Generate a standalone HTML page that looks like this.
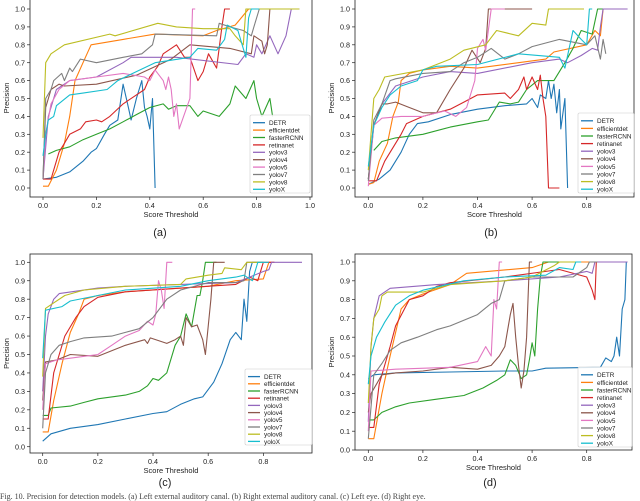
<!DOCTYPE html>
<html><head><meta charset="utf-8"><style>
html,body{margin:0;padding:0;background:#fff}
svg{display:block;font-family:"Liberation Sans","DejaVu Sans",sans-serif}
</style></head><body>
<svg id="fig" width="640" height="501" viewBox="0 0 640 501" xmlns="http://www.w3.org/2000/svg">
<text x="0" y="499" font-size="8" fill="#444" font-family="Liberation Serif, serif">Fig. 10.   Precision for detection models. (a) Left external auditory canal. (b) Right external auditory canal. (c) Left eye. (d) Right eye.</text>
</svg>
<script>
const seriesNames = ["DETR","efficientdet","fasterRCNN","retinanet","yolov3","yolov4","yolov5","yolov7","yolov8","yoloX"];
const seriesColors = ["#1f77b4","#ff7f0e","#2ca02c","#d62728","#9467bd","#8c564b","#e377c2","#7f7f7f","#bcbd22","#17becf"];
const yTicks = [0,0.1,0.2,0.3,0.4,0.5,0.6,0.7,0.8,0.9,1.0];
const xTicksA = [0,0.2,0.4,0.6,0.8,1.0];
const xTicksB = [0,0.2,0.4,0.6,0.8];

const dataA = [
[[0,0.05],[0.05,0.06],[0.1,0.09],[0.15,0.15],[0.18,0.2],[0.2,0.22],[0.23,0.3],[0.25,0.35],[0.28,0.38],[0.3,0.58],[0.32,0.45],[0.33,0.38],[0.35,0.5],[0.37,0.6],[0.38,0.45],[0.39,0.4],[0.4,0.33],[0.41,0.5],[0.42,0]],
[[0,0.01],[0.02,0.01],[0.05,0.1],[0.08,0.25],[0.1,0.4],[0.12,0.6],[0.15,0.7],[0.18,0.8],[0.3,0.83],[0.42,0.86],[0.6,0.85],[0.65,0.88],[0.72,0.91],[0.77,1.0],[0.96,1.0]],
[[0.02,0.19],[0.05,0.21],[0.1,0.23],[0.15,0.27],[0.2,0.3],[0.25,0.33],[0.3,0.37],[0.35,0.41],[0.4,0.45],[0.45,0.47],[0.47,0.44],[0.5,0.46],[0.55,0.46],[0.58,0.4],[0.6,0.43],[0.66,0.4],[0.7,0.47],[0.72,0.57],[0.76,0.5],[0.79,0.6],[0.8,0.5],[0.82,0.4],[0.85,0.5],[0.86,0.4]],
[[0,0.05],[0.03,0.05],[0.06,0.2],[0.08,0.25],[0.1,0.3],[0.14,0.33],[0.16,0.37],[0.2,0.38],[0.22,0.37],[0.25,0.4],[0.3,0.47],[0.35,0.52],[0.38,0.55],[0.4,0.62],[0.43,0.68],[0.45,0.75],[0.48,0.78],[0.5,0.8],[0.53,0.73],[0.55,0.73],[0.58,0.6],[0.6,0.65],[0.62,0.75],[0.65,0.67],[0.67,0.9],[0.68,1.0],[0.7,1.0]],
[[0,0.05],[0.02,0.4],[0.05,0.55],[0.1,0.6],[0.2,0.62],[0.3,0.7],[0.33,0.73],[0.5,0.73],[0.73,0.69],[0.76,0.75],[0.79,0.73],[0.8,0.8],[0.82,0.75],[0.85,0.85],[0.88,0.75],[0.91,0.85],[0.93,1.0],[0.96,1.0]],
[[0,0.05],[0.01,0.45],[0.03,0.55],[0.06,0.58],[0.08,0.57],[0.2,0.58],[0.35,0.63],[0.48,0.72],[0.55,0.8],[0.7,0.78],[0.78,0.75],[0.79,0.85],[0.82,0.82],[0.83,0.75],[0.84,0.8],[0.85,1.0],[0.95,1.0]],
[[0,0.05],[0.01,0.3],[0.03,0.47],[0.06,0.55],[0.1,0.6],[0.2,0.62],[0.3,0.64],[0.38,0.62],[0.4,0.6],[0.42,0.66],[0.45,0.6],[0.46,0.55],[0.47,0.62],[0.48,0.55],[0.49,0.4],[0.5,0.47],[0.51,0.33],[0.55,0.5],[0.56,1.0],[0.57,1.0]],
[[0,0.05],[0.01,0.5],[0.03,0.55],[0.04,0.6],[0.07,0.64],[0.08,0.6],[0.1,0.67],[0.11,0.65],[0.14,0.72],[0.2,0.7],[0.3,0.73],[0.37,0.75],[0.41,0.8],[0.42,0.86],[0.65,0.85],[0.66,0.92],[0.7,0.9],[0.75,0.88],[0.78,0.85],[0.79,0.9],[0.81,1.0],[0.96,1.0]],
[[0,0.28],[0.01,0.7],[0.03,0.75],[0.08,0.8],[0.25,0.86],[0.27,0.85],[0.43,0.92],[0.5,0.9],[0.6,0.89],[0.7,0.89],[0.72,0.85],[0.75,0.8],[0.76,1.0],[0.96,1.0]],
[[0,0.18],[0.01,0.3],[0.02,0.38],[0.04,0.4],[0.05,0.46],[0.1,0.52],[0.15,0.53],[0.24,0.55],[0.28,0.6],[0.35,0.65],[0.42,0.7],[0.55,0.73],[0.58,0.78],[0.65,0.77],[0.68,0.83],[0.69,0.91],[0.73,0.88],[0.76,0.73],[0.77,0.95],[0.78,1.0],[0.81,1.0]]
];
const dataB = [
[[0,0.02],[0.04,0.05],[0.08,0.1],[0.12,0.2],[0.15,0.3],[0.18,0.36],[0.22,0.37],[0.3,0.41],[0.4,0.44],[0.5,0.46],[0.58,0.47],[0.6,0.5],[0.62,0.45],[0.63,0.52],[0.65,0.5],[0.66,0.6],[0.67,0.5],[0.68,0.58],[0.69,0.42],[0.7,0.55],[0.705,0.33],[0.72,0.5],[0.73,0]],
[[0,0.02],[0.02,0.03],[0.04,0.15],[0.07,0.25],[0.09,0.4],[0.11,0.48],[0.12,0.6],[0.15,0.64],[0.2,0.66],[0.3,0.68],[0.4,0.67],[0.55,0.7],[0.65,0.72],[0.68,0.76],[0.8,0.8],[0.83,0.88],[0.85,0.85],[0.86,1.0]],
[[0.02,0.21],[0.05,0.26],[0.1,0.28],[0.2,0.3],[0.3,0.34],[0.4,0.37],[0.44,0.38],[0.48,0.48],[0.52,0.47],[0.55,0.48],[0.58,0.55],[0.62,0.6],[0.68,0.6],[0.72,0.7],[0.75,0.78],[0.78,0.88],[0.82,0.86],[0.84,1.0],[0.86,1.0]],
[[0,0.04],[0.03,0.04],[0.06,0.15],[0.1,0.25],[0.12,0.3],[0.14,0.36],[0.2,0.4],[0.3,0.44],[0.35,0.48],[0.4,0.52],[0.5,0.53],[0.52,0.5],[0.55,0.55],[0.57,0.62],[0.58,0.55],[0.6,0.62],[0.62,0.55],[0.63,0.63],[0.64,0.5],[0.65,0.4],[0.66,0],[0.7,0]],
[[0,0.05],[0.02,0.35],[0.05,0.47],[0.1,0.57],[0.2,0.62],[0.3,0.65],[0.4,0.64],[0.6,0.7],[0.7,0.72],[0.73,0.7],[0.78,0.74],[0.82,0.78],[0.84,0.77],[0.85,0.9],[0.86,1.0],[0.95,1.0]],
[[0,0.05],[0.02,0.35],[0.05,0.47],[0.07,0.47],[0.1,0.48],[0.15,0.45],[0.2,0.42],[0.25,0.42],[0.3,0.55],[0.35,0.67],[0.38,0.77],[0.41,0.7],[0.43,0.78],[0.44,1.0],[0.6,1.0]],
[[0,0.01],[0.02,0.35],[0.05,0.39],[0.12,0.4],[0.2,0.4],[0.28,0.43],[0.32,0.4],[0.36,0.45],[0.39,0.6],[0.4,0.78],[0.42,0.83],[0.43,0.77],[0.45,1.0],[0.5,1.0]],
[[0,0.04],[0.02,0.38],[0.05,0.47],[0.08,0.6],[0.1,0.61],[0.2,0.64],[0.3,0.65],[0.35,0.7],[0.4,0.73],[0.45,0.78],[0.5,0.72],[0.55,0.75],[0.6,0.79],[0.7,0.83],[0.8,0.8],[0.83,0.85],[0.85,0.72],[0.86,0.83],[0.87,0.75]],
[[0,0.1],[0.01,0.3],[0.02,0.5],[0.04,0.55],[0.06,0.62],[0.2,0.66],[0.3,0.72],[0.35,0.77],[0.43,0.8],[0.45,0.84],[0.47,0.88],[0.55,0.85],[0.6,0.92],[0.65,0.91],[0.66,1.0],[0.79,1.0]],
[[0,0.12],[0.02,0.35],[0.05,0.45],[0.08,0.52],[0.12,0.57],[0.18,0.6],[0.2,0.66],[0.25,0.68],[0.4,0.69],[0.55,0.75],[0.7,0.73],[0.72,0.67],[0.75,0.88],[0.78,0.83],[0.8,0.8],[0.81,1.0],[0.82,1.0]]
];
const dataC = [
[[0,0.03],[0.03,0.07],[0.1,0.1],[0.2,0.12],[0.3,0.15],[0.4,0.18],[0.45,0.19],[0.5,0.23],[0.55,0.26],[0.58,0.27],[0.62,0.35],[0.65,0.45],[0.68,0.58],[0.7,0.62],[0.72,0.58],[0.73,0.8],[0.74,0.68],[0.75,0.95],[0.76,1.0],[0.8,1.0]],
[[0,0.08],[0.02,0.08],[0.04,0.25],[0.07,0.45],[0.1,0.62],[0.13,0.72],[0.15,0.8],[0.2,0.82],[0.3,0.84],[0.4,0.85],[0.6,0.87],[0.7,0.9],[0.8,0.91],[0.82,1.0],[0.84,1.0]],
[[0,0.17],[0.02,0.17],[0.03,0.21],[0.1,0.22],[0.15,0.24],[0.2,0.26],[0.3,0.28],[0.35,0.3],[0.38,0.33],[0.4,0.37],[0.42,0.36],[0.45,0.4],[0.48,0.55],[0.5,0.6],[0.52,0.72],[0.54,0.65],[0.56,0.82],[0.57,0.82],[0.58,0.9],[0.59,1.0],[0.63,1.0]],
[[0,0.15],[0.02,0.15],[0.04,0.4],[0.08,0.6],[0.12,0.7],[0.15,0.76],[0.2,0.81],[0.3,0.84],[0.5,0.86],[0.7,0.88],[0.75,0.92],[0.78,0.9],[0.8,1.0],[0.84,1.0]],
[[0,0.3],[0.01,0.6],[0.02,0.72],[0.04,0.8],[0.06,0.83],[0.2,0.86],[0.3,0.87],[0.5,0.88],[0.7,0.89],[0.75,0.92],[0.8,0.95],[0.82,0.96],[0.83,1.0],[0.94,1.0]],
[[0,0.25],[0.01,0.46],[0.05,0.47],[0.1,0.5],[0.2,0.49],[0.3,0.55],[0.37,0.58],[0.38,0.56],[0.39,0.59],[0.45,0.56],[0.48,0.58],[0.5,0.6],[0.51,0.55],[0.52,0.7],[0.54,0.65],[0.56,0.66],[0.58,0.58],[0.59,0.5],[0.61,0.8],[0.62,1.0],[0.66,1.0]],
[[0,0.2],[0.01,0.45],[0.05,0.47],[0.1,0.48],[0.2,0.5],[0.25,0.55],[0.3,0.6],[0.35,0.63],[0.38,0.68],[0.4,0.66],[0.41,0.72],[0.42,0.9],[0.43,0.85],[0.44,0.75],[0.45,1.0],[0.47,1.0]],
[[0,0.1],[0.01,0.4],[0.03,0.5],[0.06,0.55],[0.1,0.57],[0.15,0.59],[0.25,0.6],[0.3,0.62],[0.35,0.64],[0.4,0.7],[0.45,0.8],[0.5,0.85],[0.6,0.89],[0.7,0.89],[0.73,0.9],[0.74,1.0],[0.8,1.0]],
[[0,0.38],[0.01,0.75],[0.03,0.77],[0.08,0.82],[0.15,0.85],[0.3,0.87],[0.5,0.88],[0.52,0.91],[0.6,0.93],[0.65,0.94],[0.66,0.97],[0.72,0.96],[0.74,1.0],[0.8,1.0]],
[[0,0.48],[0.01,0.74],[0.07,0.76],[0.1,0.79],[0.2,0.82],[0.3,0.85],[0.5,0.87],[0.6,0.9],[0.7,0.92],[0.73,0.93],[0.76,0.9],[0.78,1.0],[0.82,1.0]]
];
const dataD = [
[[0,0.38],[0.02,0.4],[0.1,0.41],[0.3,0.415],[0.5,0.42],[0.6,0.42],[0.65,0.435],[0.85,0.44],[0.87,0.49],[0.89,0.47],[0.9,0.5],[0.91,0.6],[0.92,0.5],[0.93,0.75],[0.94,0.8],[0.945,1.0]],
[[0,0.06],[0.02,0.06],[0.05,0.3],[0.08,0.5],[0.12,0.75],[0.15,0.8],[0.2,0.83],[0.3,0.88],[0.36,0.94],[0.6,0.97],[0.66,1.0],[0.84,1.0]],
[[0,0.16],[0.02,0.16],[0.05,0.2],[0.1,0.23],[0.15,0.25],[0.25,0.27],[0.35,0.29],[0.42,0.33],[0.47,0.37],[0.5,0.4],[0.52,0.48],[0.54,0.45],[0.56,0.38],[0.58,0.4],[0.59,0.48],[0.6,0.57],[0.61,0.5],[0.62,0.75],[0.63,0.92],[0.64,1.0],[0.7,1.0]],
[[0,0.12],[0.02,0.12],[0.04,0.35],[0.08,0.55],[0.1,0.66],[0.15,0.8],[0.2,0.82],[0.25,0.87],[0.3,0.89],[0.5,0.92],[0.7,0.96],[0.8,0.92],[0.82,0.85],[0.83,0.8],[0.835,1.0],[0.84,1.0]],
[[0,0.15],[0.01,0.55],[0.02,0.7],[0.04,0.82],[0.08,0.86],[0.25,0.88],[0.5,0.9],[0.7,0.92],[0.8,0.95],[0.82,0.94],[0.83,1.0],[0.95,1.0]],
[[0,0.2],[0.01,0.3],[0.05,0.4],[0.1,0.41],[0.2,0.42],[0.3,0.44],[0.4,0.43],[0.45,0.45],[0.48,0.5],[0.5,0.55],[0.52,0.72],[0.53,0.78],[0.54,0.6],[0.55,0.45],[0.56,0.33],[0.57,0.42],[0.58,0.6],[0.59,1.0],[0.6,1.0]],
[[0,0.1],[0.01,0.42],[0.1,0.43],[0.3,0.44],[0.4,0.47],[0.43,0.55],[0.45,0.5],[0.46,0.8],[0.47,0.75],[0.48,1.0],[0.49,1.0]],
[[0,0.06],[0.02,0.4],[0.05,0.46],[0.08,0.53],[0.12,0.57],[0.18,0.6],[0.25,0.64],[0.3,0.66],[0.4,0.72],[0.45,0.78],[0.48,0.8],[0.5,0.9],[0.6,0.92],[0.75,0.92],[0.8,0.97],[0.81,1.0],[0.84,1.0]],
[[0,0.25],[0.01,0.55],[0.02,0.7],[0.04,0.75],[0.05,0.82],[0.07,0.84],[0.2,0.84],[0.3,0.88],[0.5,0.9],[0.6,0.92],[0.68,0.98],[0.7,1.0],[0.77,1.0]],
[[0,0.35],[0.01,0.5],[0.03,0.6],[0.06,0.68],[0.1,0.77],[0.15,0.82],[0.2,0.85],[0.35,0.9],[0.5,0.92],[0.65,0.93],[0.7,0.97],[0.75,0.96],[0.76,1.0],[0.78,1.0]]
];

const NS="http://www.w3.org/2000/svg";
const svg=document.getElementById('fig');
function mk(tag,attrs,parent){const e=document.createElementNS(NS,tag);for(const k in attrs)e.setAttribute(k,attrs[k]);(parent||svg).appendChild(e);return e;}

const panels=[
 {id:'a',data:dataA,xt:xTicksA,box:[30,-1,312,197],x0:43,xu:267,y0:188,y1:9,leg:[250,115,310,193],cap:[160,236]},
 {id:'b',data:dataB,xt:xTicksB,box:[355,-1,634,197],x0:368.3,xu:273,y0:188,y1:9,leg:[578,113,634,193],cap:[491,236]},
 {id:'c',data:dataC,xt:xTicksB,box:[30,254,312,453],x0:42.7,xu:275.8,y0:446.7,y1:262.3,leg:[245,369,312,445],cap:[165,486]},
 {id:'d',data:dataD,xt:xTicksB,box:[355,254,632,450],x0:368.3,xu:273,y0:450,y1:262,leg:[578,367,632,447],cap:[490,486]}
];

panels.forEach(p=>{
 const g=mk('g',{});
 
 
 const xs=v=>p.x0+v*p.xu;
 const ys=v=>p.y0-v*(p.y0-p.y1);
 const [bl,bt,br,bb]=p.box;
 // series
 p.data.forEach((pts,i)=>{
  const d=pts.map((q,j)=>(j?'L':'M')+xs(q[0]).toFixed(1)+','+ys(q[1]).toFixed(1)).join('');
  const path=mk('path',{d:d,fill:'none',stroke:seriesColors[i],'stroke-width':1.1,'stroke-linejoin':'round'},g);
  
  
 });
 // frame
 const fr=mk('rect',{x:bl,y:bt,width:br-bl,height:bb-bt,fill:'none',stroke:'#222','stroke-width':0.8},g);
 
 
 // y ticks
 yTicks.forEach(t=>{
  const y=ys(t);
  mk('line',{x1:bl-3,x2:bl,y1:y,y2:y,stroke:'#222','stroke-width':0.7},g);
  const tx=mk('text',{x:bl-5,y:y+2.6,'font-size':7.2,'text-anchor':'end',fill:'#222'},g);
  tx.textContent=t.toFixed(1);
  
  
 });
 p.xt.forEach(t=>{
  const x=xs(t);
  mk('line',{x1:x,x2:x,y1:bb,y2:bb+3,stroke:'#222','stroke-width':0.7},g);
  const tx=mk('text',{x:x,y:bb+11,'font-size':7.2,'text-anchor':'middle',fill:'#222'},g);
  tx.textContent=t.toFixed(1);
  
  
 });
 const xl=mk('text',{x:(bl+br)/2,y:bb+20,'font-size':7.5,'text-anchor':'middle',fill:'#222'},g);
 xl.textContent='Score Threshold';
 
 
 const ycx=bl-21, ycy=(bt+bb)/2;
 const yl=mk('text',{x:ycx,y:ycy,'font-size':7.5,'text-anchor':'middle',fill:'#222',transform:'rotate(-90 '+ycx+' '+ycy+')'},g);
 yl.textContent='Precision';
 
 
 // legend
 const [lx0,ly0,lx1,ly1]=p.leg;
 const lg=mk('g',{},g);
 
 
 mk('rect',{x:lx0,y:ly0,width:lx1-lx0,height:ly1-ly0,fill:'#fff','fill-opacity':0.85,stroke:'#ccc','stroke-width':0.6,rx:1.5},lg);
 const step=(ly1-ly0-4)/10;
 seriesNames.forEach((n,i)=>{
  const y=ly0+4+step*(i+0.5);
  const ln=mk('line',{x1:lx0+3,x2:lx0+15,y1:y,y2:y,stroke:seriesColors[i],'stroke-width':1.3},lg);
  
  
  const tx=mk('text',{x:lx0+19,y:y+2.4,'font-size':6.4,fill:'#222'},lg);
  tx.textContent=n;
  
  
 });
 const cp=mk('text',{x:p.cap[0],y:p.cap[1],'font-size':11,'text-anchor':'middle',fill:'#222'},g);
 cp.textContent='('+p.id+')';
 
 
});
</script>
</body></html>
